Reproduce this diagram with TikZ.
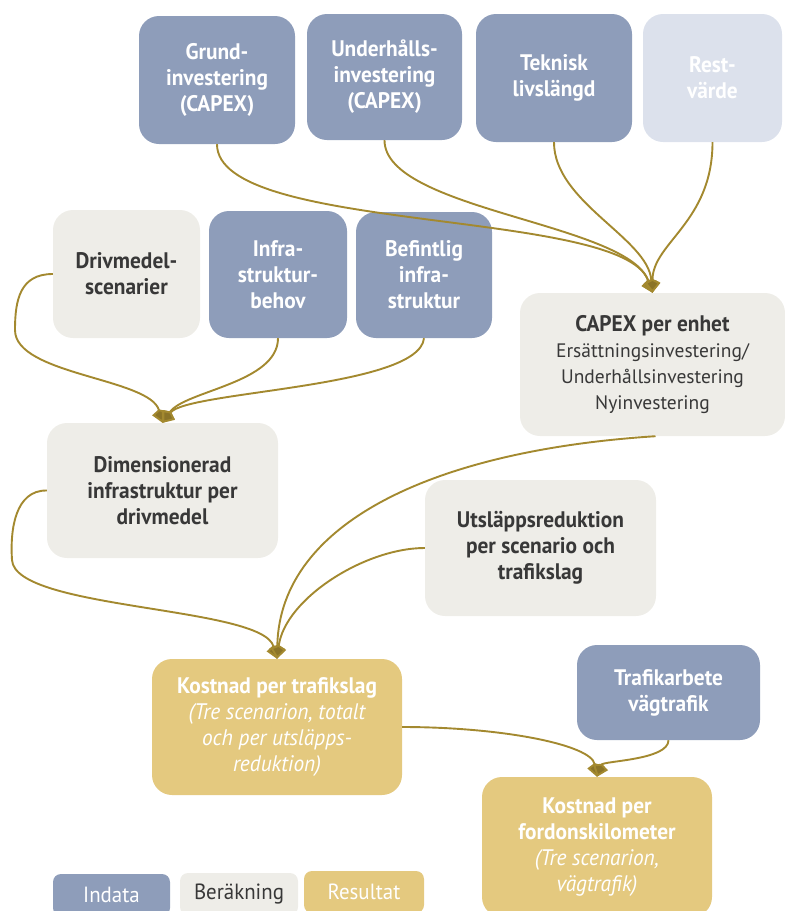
\documentclass[tikz,border=0pt]{standalone}
\usepackage{fontspec}
\setmainfont{PT Sans}
\newfontfamily\condfont{PT Sans}[FakeStretch=0.95]
\usetikzlibrary{arrows.meta}

\definecolor{indata}{HTML}{8E9DBA}
\definecolor{indatalight}{HTML}{DCE1EC}
\definecolor{calcgray}{HTML}{EEEDE8}
\definecolor{result}{HTML}{E4C97F}
\definecolor{flow}{HTML}{A3892F}
\definecolor{ink}{HTML}{383838}

\newcommand\ital[1]{{\mdseries\itshape #1}}

\tikzset{
  box/.style={rounded corners=20pt, inner sep=0pt, align=center,
    font=\condfont\bfseries\fontsize{22.5}{26}\selectfont},
  inbox/.style={box, fill=indata, text=white},
  inlight/.style={box, fill=indatalight, text=white},
  calcbox/.style={box, fill=calcgray, text=ink},
  resbox/.style={box, fill=result, text=white},
  legendbox/.style={rounded corners=8pt, inner sep=0pt,
    font=\condfont\mdseries\fontsize{22}{26}\selectfont},
  flowline/.style={draw=flow, line width=1.9pt,
    -{Kite[length=14pt,width=16pt,inset=4pt,fill=flow!85!black]}},
}

\begin{document}
\begin{tikzpicture}[x=1pt,y=-1pt]
\useasboundingbox (0,0) rectangle (785,911);
\clip (0,0) rectangle (785,911);

% input data, top row
\node[inbox, minimum width=156pt, minimum height=128pt] (grund) at (217,80)
  {Grund-\\investering\\(CAPEX)};
\node[inbox, minimum width=155pt, minimum height=126pt] (under) at (384.5,77)
  {Underhålls-\\investering\\(CAPEX)};
\node[inbox, minimum width=156pt, minimum height=128pt] (tek) at (554,78)
  {Teknisk\\livslängd};
\node[inlight, minimum width=139pt, minimum height=128pt] (rest) at (712.5,78)
  {Rest-\\värde};

% second row
\node[calcbox, minimum width=147pt, minimum height=128pt] (drv) at (126.5,274)
  {Drivmedel-\\scenarier};
\node[inbox, minimum width=138pt, minimum height=127pt] (infra) at (278,274.5)
  {Infra-\\struktur-\\behov};
\node[inbox, minimum width=136pt, minimum height=126pt] (bef) at (424,275)
  {Befintlig\\infra-\\struktur};
\node[calcbox, minimum width=265pt, minimum height=143pt,
      font=\fontsize{19.5}{26}\selectfont] (capex) at (652.5,364.5)
  {{\condfont\bfseries\fontsize{22.5}{26}\selectfont CAPEX per enhet}\\
   Ersättningsinvestering/\\Underhållsinvestering\\Nyinvestering};

% calculations
\node[calcbox, minimum width=231pt, minimum height=135pt] (dim) at (162.5,490.5)
  {Dimensionerad\\infrastruktur per\\drivmedel};
\node[calcbox, minimum width=231pt, minimum height=136pt] (uts) at (540.5,548)
  {Utsläppsreduktion\\per scenario och\\trafikslag};

% results
\node[resbox, minimum width=250pt, minimum height=136pt] (kos) at (277,727)
  {Kostnad per trafikslag\\\ital{(Tre scenarion, totalt}\\\ital{och per utsläpps-}\\\ital{reduktion)}};
\node[inbox, minimum width=183pt, minimum height=95pt] (traf) at (668.5,692.5)
  {Trafikarbete\\vägtrafik};
\node[resbox, minimum width=230pt, minimum height=140pt] (ford) at (597,847)
  {Kostnad per\\fordonskilometer\\\ital{(Tre scenarion,}\\\ital{vägtrafik)}};

% legend
\node[legendbox, fill=indata, text=white, minimum width=117pt, minimum height=42pt]
  (lgin) at (111.5,895) {Indata};
\node[legendbox, fill=calcgray, text=ink, minimum width=118pt, minimum height=42pt]
  (lgcalc) at (239,894) {Beräkning};
\node[legendbox, fill=result, text=white, minimum width=120pt, minimum height=42pt]
  (lgres) at (364,892) {Resultat};

% flows into CAPEX per enhet
\draw[flowline] (grund.south) .. controls +(0,90) and +(-30,-85) .. (capex.north);
\draw[flowline] (under.south) .. controls +(0,70) and +(-25,-70) .. (capex.north);
\draw[flowline] (tek.south) .. controls +(0,60) and +(-5,-55) .. (capex.north);
\draw[flowline] (rest.south) .. controls +(0,80) and +(0,-50) .. (capex.north);

% flows into dimensioned infrastructure
\draw[flowline] (drv.west) .. controls (20,274) and (15,300) .. (15,330)
  .. controls (15,375) and (150,378) .. (dim.north);
\draw[flowline] (infra.south) .. controls +(0,45) and +(22,-32) .. (dim.north);
\draw[flowline] (bef.south) .. controls +(-5,50) and +(25,-32) .. (dim.north);

% flows into cost per transport mode
\draw[flowline] ([xshift=3pt]capex.south) .. controls (440,450) and (280,520) .. (kos.north);
\draw[flowline] (dim.west) .. controls (15,490) and (10,530) .. (12,560)
  .. controls (15,610) and (262,606) .. (kos.north);
\draw[flowline] (uts.west) .. controls +(-60,0) and +(8,-60) .. (kos.north);

% flows into cost per vehicle kilometre
\draw[flowline] (kos.east) .. controls +(100,0) and +(-6,-32) .. (ford.north);
\draw[flowline] (traf.south) .. controls +(0,20) and +(6,-16) .. (ford.north);
\end{tikzpicture}
\end{document}
